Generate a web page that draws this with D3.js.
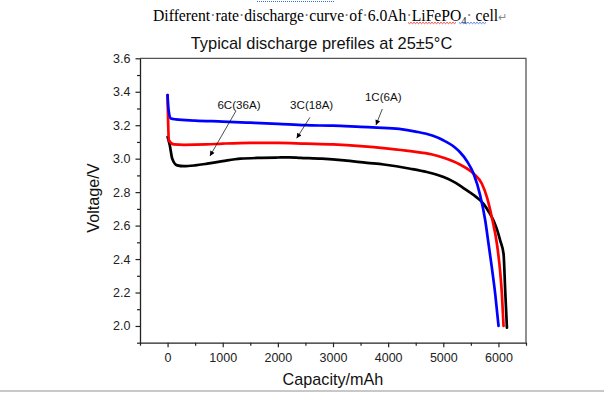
<!DOCTYPE html>
<html>
<head>
<meta charset="utf-8">
<script src="https://cdn.jsdelivr.net/npm/d3@7"></script>
<style>
  body { margin: 0; background: #fff; }
  svg { display: block; }
</style>
</head>
<body>
<div id="chart"></div>
<script>
// discharge curves (capacity mAh, voltage V)
const cap1C = [0, 15, 60, 150, 500, 1000, 1500, 2000, 2500, 3000, 3500, 3800, 4200, 4500, 4800, 5000, 5200, 5300, 5430, 5550, 5670, 5761, 5821, 5880, 5942, 6002];
const volt1C = [3.38, 3.30, 3.24, 3.235, 3.228, 3.222, 3.215, 3.208, 3.20, 3.197, 3.19, 3.186, 3.178, 3.162, 3.138, 3.11, 3.07, 3.04, 2.985, 2.91, 2.78, 2.63, 2.49, 2.35, 2.19, 2.0];

const cap3C = [0, 8, 24, 114, 300, 700, 1000, 1500, 2000, 2500, 3000, 3500, 4000, 4400, 4800, 5006, 5300, 5551, 5700, 5791, 5880, 5973, 6030, 6063, 6093];
const volt3C = [3.38, 3.25, 3.11, 3.085, 3.083, 3.085, 3.09, 3.095, 3.095, 3.09, 3.085, 3.075, 3.06, 3.045, 3.025, 3.005, 2.965, 2.91, 2.85, 2.77, 2.65, 2.49, 2.33, 2.19, 2.0];

const cap6C = [0, 40, 85, 175, 296, 500, 719, 1000, 1322, 1700, 2000, 2200, 2409, 2800, 3200, 3618, 3920, 4402, 4700, 5006, 5200, 5429, 5600, 5730, 5830, 5911, 5970, 6033, 6093, 6123, 6154];
const volt6C = [3.13, 3.08, 3.00, 2.96, 2.955, 2.96, 2.97, 2.985, 3.0, 3.005, 3.007, 3.008, 3.005, 3.0, 2.99, 2.975, 2.965, 2.94, 2.92, 2.89, 2.86, 2.81, 2.77, 2.73, 2.68, 2.63, 2.58, 2.51, 2.43, 2.21, 1.99];

const capTicks = [0, 1000, 2000, 3000, 4000, 5000, 6000];
const capMinor = [-500, 500, 1500, 2500, 3500, 4500, 5500, 6500];
const voltTicks = [2.0, 2.2, 2.4, 2.6, 2.8, 3.0, 3.2, 3.4, 3.6];
const voltMinor = [1.9, 2.1, 2.3, 2.5, 2.7, 2.9, 3.1, 3.3, 3.5];

// annotation labels: text, label position, arrow start, arrow tip
const noteText = ["6C(36A)", "3C(18A)", "1C(6A)"];
const noteLabel = [[1295, 3.323], [2613, 3.323], [3912, 3.369]];
const noteFrom = [[1240, 3.285], [2582, 3.247], [3894, 3.297]];
const noteTo = [[769, 3.016], [2341, 3.122], [3779, 3.201]];

const width = 604, height = 393;
const plotLeft = 140, plotRight = 526, plotTop = 58.3, plotBottom = 342.7;

const svg = d3.select("#chart").append("svg")
  .attr("width", width)
  .attr("height", height);

const x = d3.scaleLinear().domain([-500, 6500]).range([plotLeft, plotRight]);
const y = d3.scaleLinear().domain([1.9, 3.6]).range([plotBottom, plotTop]);

const sans = "'Liberation Sans', Arial, sans-serif";

// caption above the chart (Word style, with space marks)
const capWords = ["Different", "rate", "discharge", "curve", "of", "6.0Ah", "LiFePO"];
const caption = svg.append("text")
  .attr("x", 153).attr("y", 20.5)
  .style("font-family", "'Liberation Serif', 'Times New Roman', serif")
  .style("font-size", "15.7px")
  .attr("fill", "#000");
capWords.forEach((w, i) => {
  caption.append("tspan").text(w);
  if (i < capWords.length - 1) caption.append("tspan").attr("fill", "#777").text("·");
});
caption.append("tspan").attr("dy", 3).style("font-size", "10px").text("4");
caption.append("tspan").attr("dy", -3).attr("fill", "#777").text("·");
caption.append("tspan").text(" cell");
caption.append("tspan").attr("fill", "#888").style("font-size", "11px").text("↵");

function wavy(x0, x1, yy) {
  let d = `M${x0},${yy}`;
  for (let xx = x0 + 1.5, k = 0; xx <= x1; xx += 1.5, k++) {
    d += `L${xx},${yy + (k % 2 === 0 ? 1.2 : -0.2)}`;
  }
  return d;
}
svg.append("path").attr("d", wavy(408, 457, 22.5))
  .attr("fill", "none").attr("stroke", "#e03030").attr("stroke-width", 0.9);
svg.append("path").attr("d", wavy(459, 487, 22.5))
  .attr("fill", "none").attr("stroke", "#3c6ee0").attr("stroke-width", 0.9);
svg.append("line")
  .attr("x1", 257).attr("x2", 335).attr("y1", 1.5).attr("y2", 1.5)
  .attr("stroke", "#3c6ee0").attr("stroke-width", 1).attr("stroke-dasharray", "1,1");

// page edge line at the bottom
svg.append("line")
  .attr("x1", 0).attr("x2", width).attr("y1", 391).attr("y2", 391)
  .attr("stroke", "#c8c8c8").attr("stroke-width", 2);

// title
svg.append("text")
  .attr("x", 321.5).attr("y", 49)
  .attr("text-anchor", "middle")
  .style("font-family", sans)
  .style("font-size", "16.4px")
  .attr("fill", "#111")
  .text("Typical discharge prefiles at 25±5°C");

// frame: top and right
svg.append("path")
  .attr("d", `M${plotLeft},${plotTop}H${plotRight}V${plotBottom}`)
  .attr("fill", "none")
  .attr("stroke", "#555")
  .attr("stroke-width", 1.3);

// minor ticks
svg.append("g").attr("transform", `translate(0,${plotBottom})`)
  .call(d3.axisBottom(x).tickValues(capMinor).tickSize(3).tickFormat(""))
  .call(g => g.select(".domain").remove())
  .call(g => g.selectAll("line").attr("stroke", "#222").attr("stroke-width", 1.2));
svg.append("g").attr("transform", `translate(${plotLeft},0)`)
  .call(d3.axisLeft(y).tickValues(voltMinor).tickSize(3).tickFormat(""))
  .call(g => g.select(".domain").remove())
  .call(g => g.selectAll("line").attr("stroke", "#222").attr("stroke-width", 1.2));

// major axes
const xAxis = svg.append("g").attr("transform", `translate(0,${plotBottom})`)
  .call(d3.axisBottom(x).tickValues(capTicks).tickSize(4.5).tickSizeOuter(0).tickPadding(6)
    .tickFormat(d3.format("d")));
const yAxis = svg.append("g").attr("transform", `translate(${plotLeft},0)`)
  .call(d3.axisLeft(y).tickValues(voltTicks).tickSize(4.5).tickSizeOuter(0).tickPadding(5)
    .tickFormat(d3.format(".1f")));

[xAxis, yAxis].forEach(g => {
  g.select(".domain").attr("stroke", "#222").attr("stroke-width", 1.3);
  g.selectAll(".tick line").attr("stroke", "#222").attr("stroke-width", 1.2);
  g.selectAll(".tick text")
    .style("font-family", sans)
    .style("font-size", "12.5px")
    .attr("fill", "#222");
});

// axis titles
svg.append("text")
  .attr("x", 333).attr("y", 384.5)
  .attr("text-anchor", "middle")
  .style("font-family", sans)
  .style("font-size", "16.2px")
  .attr("fill", "#111")
  .text("Capacity/mAh");

svg.append("text")
  .attr("transform", "translate(98.5,198) rotate(-90)")
  .attr("text-anchor", "middle")
  .style("font-family", sans)
  .style("font-size", "16.2px")
  .attr("fill", "#111")
  .text("Voltage/V");

// curves
const line = d3.line()
  .x(d => x(d[0]))
  .y(d => y(d[1]))
  .curve(d3.curveMonotoneX);

const series = [
  { cap: cap6C, volt: volt6C, color: "#000000" },
  { cap: cap3C, volt: volt3C, color: "#ff0000" },
  { cap: cap1C, volt: volt1C, color: "#0000ff" }
];

svg.append("g").selectAll("path")
  .data(series)
  .join("path")
    .attr("d", s => line(s.cap.map((c, i) => [c, s.volt[i]])))
    .attr("fill", "none")
    .attr("stroke", s => s.color)
    .attr("stroke-width", 2.7)
    .attr("stroke-linejoin", "round")
    .attr("stroke-linecap", "round");

// annotations
svg.append("defs").append("marker")
  .attr("id", "arrow")
  .attr("viewBox", "0 0 10 10")
  .attr("refX", 10).attr("refY", 5)
  .attr("markerWidth", 6).attr("markerHeight", 5)
  .attr("markerUnits", "userSpaceOnUse")
  .attr("orient", "auto")
  .append("path")
    .attr("d", "M0,0L10,5L0,10Z")
    .attr("fill", "#000");

const notes = svg.append("g");
noteText.forEach((t, i) => {
  notes.append("text")
    .attr("x", x(noteLabel[i][0]))
    .attr("y", y(noteLabel[i][1]))
    .attr("dy", "0.35em")
    .attr("text-anchor", "middle")
    .style("font-family", sans)
    .style("font-size", "11.6px")
    .attr("fill", "#111")
    .text(t);
  notes.append("line")
    .attr("x1", x(noteFrom[i][0])).attr("y1", y(noteFrom[i][1]))
    .attr("x2", x(noteTo[i][0])).attr("y2", y(noteTo[i][1]))
    .attr("stroke", "#000")
    .attr("stroke-width", 0.7)
    .attr("marker-end", "url(#arrow)");
});
</script>
</body>
</html>
